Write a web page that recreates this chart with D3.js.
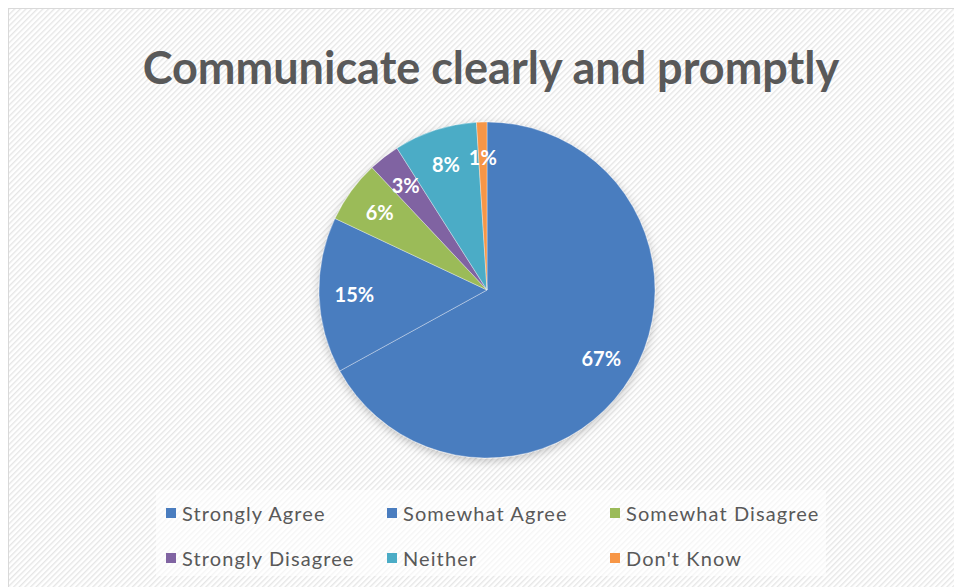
<!DOCTYPE html>
<html>
<head>
<meta charset="utf-8">
<script src="https://cdn.jsdelivr.net/npm/d3@7"></script>
<style>
  html, body { margin: 0; padding: 0; background: #ffffff; }
  svg { display: block; }
</style>
</head>
<body>
<svg id="chart" width="954" height="587"></svg>
<script>
// ---- data ----
const title = "Communicate clearly and promptly";
const categories = ["Strongly Agree", "Somewhat Agree", "Somewhat Disagree", "Strongly Disagree", "Neither", "Don't Know"];
const values = [67, 15, 6, 3, 8, 1];
const colors = ["#4a7dbf", "#4a7dbf", "#9bbb59", "#8064a2", "#4bacc6", "#f79646"];
const legendRows = [[0, 1, 2], [3, 4, 5]];

// ---- layout ----
const W = 954, H = 587;
const cx = 487, cy = 290, R = 168;

const svg = d3.select("#chart");
const defs = svg.append("defs");

const pat = defs.append("pattern")
  .attr("id", "hatch")
  .attr("patternUnits", "userSpaceOnUse")
  .attr("width", 4).attr("height", 4)
  .attr("patternTransform", "rotate(45)");
pat.append("rect").attr("width", 4).attr("height", 4).attr("fill", "#ffffff");
pat.append("rect").attr("width", 1.4).attr("height", 4).attr("fill", "#e6e6e6");

const shadow = defs.append("filter").attr("id", "shadow")
  .attr("x", "-20%").attr("y", "-20%").attr("width", "140%").attr("height", "140%");
shadow.append("feDropShadow")
  .attr("dx", 0).attr("dy", 3).attr("stdDeviation", 5)
  .attr("flood-color", "#000").attr("flood-opacity", 0.22);

// chart area
svg.append("rect")
  .attr("x", 8.5).attr("y", 8.5)
  .attr("width", W).attr("height", H)
  .attr("fill", "url(#hatch)")
  .attr("stroke", "#d9d9d9").attr("stroke-width", 1);

// title
const t = svg.append("text")
  .attr("x", 491).attr("y", 84)
  .attr("text-anchor", "middle")
  .attr("font-family", "Lato, 'Open Sans', sans-serif")
  .attr("font-weight", 700)
  .attr("font-size", 45)
  .attr("fill", "#595959")
  .text(title);
const targetW = 695;
const tl = t.node().getComputedTextLength();
if (Math.abs(tl - targetW) > 4) {
  t.attr("textLength", targetW).attr("lengthAdjust", "spacingAndGlyphs");
}

// pie
const pie = d3.pie().sort(null).value(d => d)
  .startAngle(0).endAngle(2 * Math.PI);
const arcs = pie(values);
const arc = d3.arc().innerRadius(0).outerRadius(R);
const labelArc = d3.arc().innerRadius(R * 0.79).outerRadius(R * 0.79);

const g = svg.append("g").attr("transform", `translate(${cx},${cy})`);
g.append("g").attr("filter", "url(#shadow)")
  .selectAll("path")
  .data(arcs)
  .join("path")
  .attr("d", arc)
  .attr("fill", (d, i) => colors[i])
  .attr("stroke", "rgba(255,255,255,0.35)")
  .attr("stroke-width", 1);

const total = d3.sum(values);
g.selectAll("text.lbl")
  .data(arcs)
  .join("text")
  .attr("class", "lbl")
  .attr("transform", d => `translate(${labelArc.centroid(d)})`)
  .attr("text-anchor", "middle")
  .attr("dominant-baseline", "central")
  .attr("font-family", "Lato, 'Open Sans', sans-serif")
  .attr("font-weight", 700)
  .attr("font-size", 20)
  .attr("fill", "#ffffff")
  .text(d => Math.round(d.data / total * 100) + "%");

// legend
svg.append("rect")
  .attr("x", 156).attr("y", 490)
  .attr("width", 670).attr("height", 86)
  .attr("fill", "#ffffff").attr("fill-opacity", 0.6);

const colX = [166, 387, 610];
const rowY = [513, 558];
const lg = svg.append("g");
legendRows.forEach((row, ri) => {
  row.forEach((ci, k) => {
    const item = lg.append("g").attr("transform", `translate(${colX[k]},${rowY[ri]})`);
    item.append("rect")
      .attr("x", 0).attr("y", -5)
      .attr("width", 10).attr("height", 10)
      .attr("fill", colors[ci]);
    item.append("text")
      .attr("x", 16).attr("y", 0)
      .attr("dominant-baseline", "central")
      .attr("font-family", "Lato, 'Open Sans', sans-serif")
      .attr("font-size", 20)
      .attr("letter-spacing", 1.1)
      .attr("fill", "#595959")
      .text(categories[ci]);
  });
});
</script>
</body>
</html>
